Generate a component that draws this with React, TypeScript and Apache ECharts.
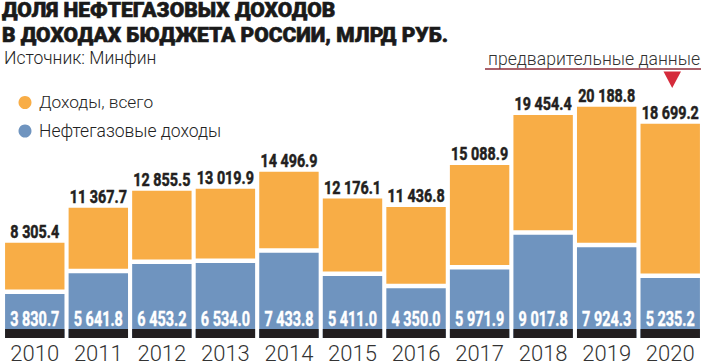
import React, { useEffect, useRef } from "react";
import * as echarts from "echarts";

const years = ["2010", "2011", "2012", "2013", "2014", "2015", "2016", "2017", "2018", "2019", "2020"];
const totalIncome = [8305.4, 11367.7, 12855.5, 13019.9, 14496.9, 12176.1, 11436.8, 15088.9, 19454.4, 20188.8, 18699.2];
const oilGasIncome = [3830.7, 5641.8, 6453.2, 6534.0, 7433.8, 5411.0, 4350.0, 5971.9, 9017.8, 7924.3, 5235.2];
const legendLabels = ["Доходы, всего", "Нефтегазовые доходы"];
const titleLines = ["ДОЛЯ НЕФТЕГАЗОВЫХ ДОХОДОВ", "В ДОХОДАХ БЮДЖЕТА РОССИИ, МЛРД РУБ."];
const sourceText = "Источник: Минфин";
const noteText = "предварительные данные";

const ORANGE = "#F8AD46";
const BLUE = "#6F94BF";
const DARK = "#231F20";
const NUM_FONT = "Roboto, 'Noto Sans', sans-serif";
const TEXT_FONT = "Roboto, 'Noto Sans', sans-serif";

function fmt(v: number): string {
  const s = v.toFixed(1);
  const [int, dec] = s.split(".");
  const withSp = int.replace(/\B(?=(\d{3})+(?!\d))/g, " ");
  return withSp + "." + dec;
}

function txt(text: string, x: number, y: number, size: number, weight: any, fill: string, align: string, scaleX = 1, strokeW = 0): any {
  const style: any = {
    text,
    fill,
    fontSize: size,
    fontWeight: weight,
    fontFamily: TEXT_FONT,
    textAlign: align,
    align,
    textVerticalAlign: "middle",
    verticalAlign: "middle",
  };
  if (strokeW > 0) {
    style.stroke = fill;
    style.lineWidth = strokeW;
  }
  return { type: "text", x, y, scaleX, style };
}

export default function App() {
  const ref = useRef<HTMLDivElement>(null);
  useEffect(() => {
    if (!ref.current) return;
    const chart = echarts.init(ref.current, undefined, { renderer: "svg" });
    const option: any = {
      animation: false,
      backgroundColor: "#ffffff",
      grid: { left: 3, right: 3, top: 51.5, bottom: 25 },
      xAxis: {
        type: "category",
        data: years,
        axisLine: { show: false },
        axisTick: { show: false },
        axisLabel: {
          margin: 4,
          fontSize: 22,
          fontFamily: TEXT_FONT,
          fontWeight: 300,
          color: "#333333",
        },
      },
      yAxis: {
        type: "value",
        min: 0,
        max: 25000,
        show: false,
        splitLine: { show: false },
      },
      series: [
        {
          type: "custom",
          data: years.map((_, i) => [i, totalIncome[i], oilGasIncome[i]]),
          encode: { x: 0, y: 1 },
          renderItem: (params: any, api: any) => {
            const i = api.value(0);
            const total = api.value(1);
            const oil = api.value(2);
            const top = api.coord([i, total]);
            const oilPt = api.coord([i, oil]);
            const base = api.coord([i, 0]);
            const w = api.size([1, 0])[0] * 0.935;
            const x0 = top[0] - w / 2;
            return {
              type: "group",
              children: [
                {
                  type: "rect",
                  shape: { x: x0, y: top[1], width: w, height: oilPt[1] - 4.5 - top[1] },
                  style: { fill: ORANGE },
                },
                {
                  type: "rect",
                  shape: { x: x0, y: oilPt[1], width: w, height: base[1] - oilPt[1] },
                  style: { fill: BLUE },
                },
                {
                  type: "rect",
                  shape: { x: x0, y: base[1] - 9, width: w, height: 9 },
                  style: { fill: DARK },
                },
                {
                  type: "text",
                  x: top[0],
                  y: top[1] - 10.8,
                  scaleX: 0.82,
                  style: {
                    text: fmt(total),
                    fill: DARK,
                    stroke: DARK,
                    lineWidth: 0.5,
                    fontSize: 17.5,
                    fontWeight: "bold",
                    fontFamily: NUM_FONT,
                    textAlign: "center",
                    align: "center",
                    textVerticalAlign: "middle",
                    verticalAlign: "middle",
                  },
                },
                {
                  type: "text",
                  x: top[0],
                  y: base[1] - 19.3,
                  scaleX: 0.74,
                  style: {
                    text: fmt(oil),
                    fill: "#ffffff",
                    stroke: "#ffffff",
                    lineWidth: 0.4,
                    fontSize: 19.5,
                    fontWeight: "bold",
                    fontFamily: NUM_FONT,
                    textAlign: "center",
                    align: "center",
                    textVerticalAlign: "middle",
                    verticalAlign: "middle",
                  },
                },
              ],
            };
          },
        },
      ],
      graphic: [
        txt(titleLines[0], 2, 10.5, 20, 900, "#1a1a1a", "left", 1.05, 0.6),
        txt(titleLines[1], 2, 35.3, 20, 900, "#1a1a1a", "left", 1.05, 0.6),
        txt(sourceText, 4, 57.5, 17.5, 300, "#222222", "left"),
        { type: "circle", shape: { cx: 25, cy: 102.5, r: 6.5 }, style: { fill: ORANGE } },
        txt(legendLabels[0], 39, 102, 17.3, 300, "#222222", "left"),
        { type: "circle", shape: { cx: 25, cy: 131, r: 6.5 }, style: { fill: BLUE } },
        txt(legendLabels[1], 39, 130.5, 17.5, 300, "#222222", "left"),
        txt(noteText, 700, 59, 17.6, 300, "#333333", "right"),
        {
          type: "line",
          shape: { x1: 485, y1: 69, x2: 701, y2: 69 },
          style: { stroke: "#8E2D3A", lineWidth: 1.5 },
        },
        {
          type: "polygon",
          shape: { points: [[663.5, 71.5], [681, 71.5], [672.2, 88]] },
          style: { fill: "#D52B3B" },
        },
      ],
    };
    chart.setOption(option);
    return () => chart.dispose();
  }, []);
  return (
    <div
      ref={ref}
      style={{ position: "absolute", left: 0, top: 0, width: 705, height: 364 }}
    />
  );
}
